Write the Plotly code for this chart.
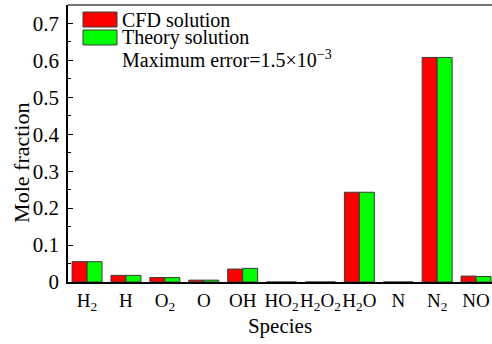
import plotly.graph_objects as go

# Species on the horizontal axis (HTML subscripts for the formulas)
species = ["H<sub>2</sub>", "H", "O<sub>2</sub>", "O", "OH", "HO<sub>2</sub>",
           "H<sub>2</sub>O<sub>2</sub>", "H<sub>2</sub>O", "N", "N<sub>2</sub>", "NO"]

# Mole fractions: CFD result and theoretical equilibrium result
cfd_solution = [0.055, 0.018, 0.012, 0.005, 0.035, 0.0, 0.0, 0.243, 0.0, 0.608, 0.016]
theory_solution = [0.055, 0.018, 0.012, 0.005, 0.037, 0.0, 0.0, 0.243, 0.0, 0.608, 0.015]

series_names = ["CFD solution", "Theory solution"]
series_colors = ["#ff0000", "#00ff00"]
note_text = "Maximum error=1.5×10<sup>−3</sup>"

FONT = "Liberation Serif"
positions = list(range(len(species)))

fig = go.Figure()
for name, vals, col in zip(series_names, [cfd_solution, theory_solution], series_colors):
    fig.add_trace(go.Bar(
        x=positions, y=vals, name=name,
        marker=dict(color=col, line=dict(color="#3a3a3a", width=1)),
        showlegend=False,
    ))

# Hand-drawn legend box: swatches + labels
shapes = []
annotations = []
swatch_rows = [(0.9746, 0.9205), (0.9097, 0.8556)]
for (y1, y0), name, col in zip(swatch_rows, series_names, series_colors):
    shapes.append(dict(type="rect", xref="paper", yref="paper",
                       x0=0.0354, x1=0.1156, y0=y0, y1=y1,
                       fillcolor=col, line=dict(color="#3a3a3a", width=1)))
    annotations.append(dict(xref="paper", yref="paper", x=0.1226, y=(y0 + y1) / 2,
                            xanchor="left", yanchor="middle", showarrow=False,
                            text=name, font=dict(family=FONT, size=20, color="black")))
annotations.append(dict(xref="paper", yref="paper", x=0.1226, y=0.805,
                        xanchor="left", yanchor="middle", showarrow=False,
                        text=note_text, font=dict(family=FONT, size=20, color="black")))

# vertical axis title, placed as free text
annotations.append(dict(xref="paper", yref="paper", x=-0.1085, y=0.43,
                        xanchor="center", yanchor="middle", showarrow=False,
                        textangle=-90, text="Mole fraction",
                        font=dict(family=FONT, size=22, color="black")))

# top frame line
shapes.append(dict(type="line", xref="paper", yref="paper", x0=0, x1=1, y0=1, y1=1,
                   line=dict(color="#444444", width=1.5)))

fig.update_layout(
    width=492, height=344,
    margin=dict(l=68, r=0, t=5, b=62),
    paper_bgcolor="white", plot_bgcolor="white",
    barmode="group", bargap=0.23, bargroupgap=0,
    font=dict(family=FONT, size=21, color="black"),
    shapes=shapes, annotations=annotations,
    xaxis=dict(
        tickmode="array", tickvals=positions, ticktext=species,
        range=[-0.49, 10.41], showgrid=False, zeroline=False,
        showline=True, linecolor="black", linewidth=1.5,
        ticks="", tickangle=0, automargin=False,
        tickfont=dict(family=FONT, size=19),
        title=dict(text="Species", font=dict(family=FONT, size=21), standoff=6),
    ),
    yaxis=dict(
        range=[0, 0.75], dtick=0.1, tick0=0, showgrid=False, zeroline=False,
        showline=True, linecolor="black", linewidth=1.5,
        ticks="inside", ticklen=5, tickwidth=1.2, tickcolor="black",
        minor=dict(ticks="inside", ticklen=3, dtick=0.05, tickcolor="black", showgrid=False),
        automargin=False,
        tickfont=dict(family=FONT, size=21), ticklabelstandoff=3,
    ),
)

fig.write_html("out.html")
